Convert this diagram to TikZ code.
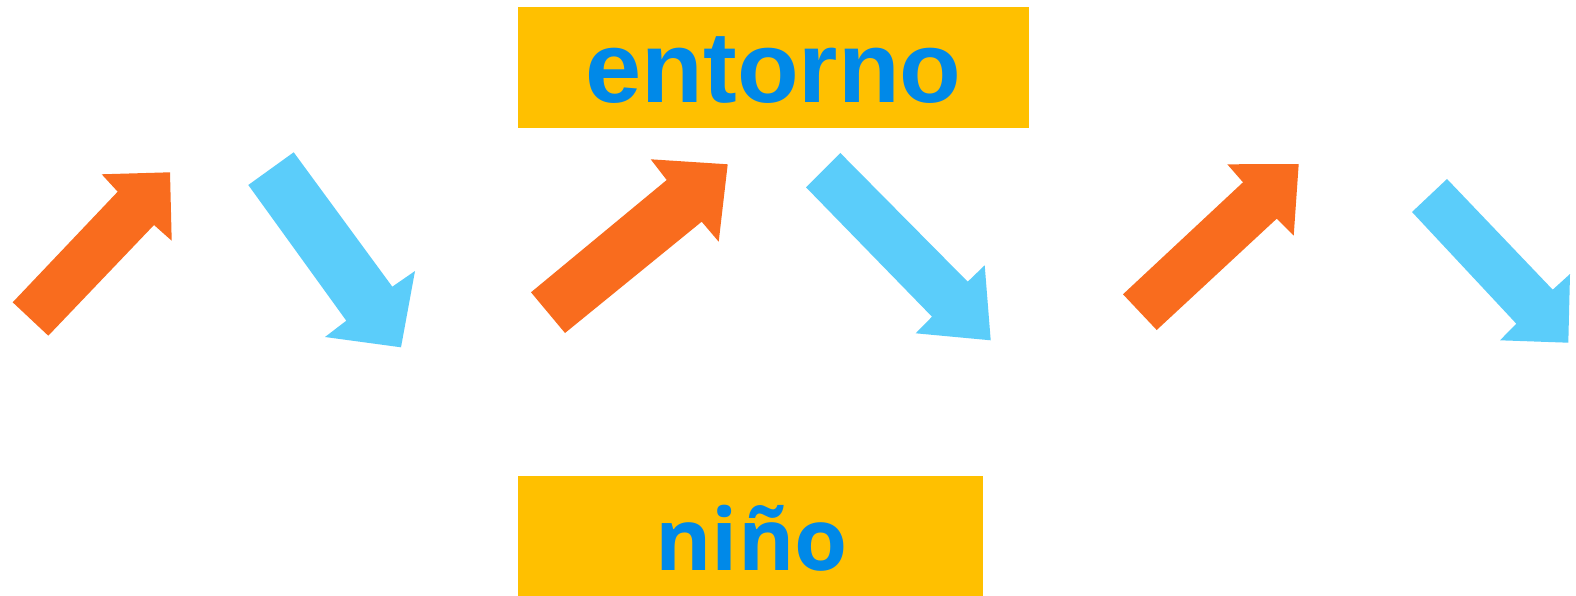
\documentclass[tikz,border=0pt]{standalone}
\usepackage{fontspec}
\setmainfont{Liberation Sans}
\newfontfamily\osans{Open Sans}
\definecolor{boxyellow}{HTML}{FFC000}
\definecolor{txtblue}{HTML}{0089E8}
\definecolor{arrorange}{HTML}{F96C1E}
\definecolor{arrblue}{HTML}{5BCDFA}
\begin{document}
\begin{tikzpicture}[x=1pt,y=-1pt,
  box/.style={fill=boxyellow, draw=none, inner sep=0pt, outer sep=0pt, anchor=north west},
  lbl/.style={text=txtblue, inner sep=0pt, anchor=base},
  orangearrow/.style={fill=arrorange, draw=none},
  bluearrow/.style={fill=arrblue, draw=none}]
\useasboundingbox (0,0) rectangle (1576,596);
\fill[white] (0,0) rectangle (1576,596);
% boxes
\node[box, minimum width=511pt, minimum height=120.7pt] (topbox) at (518,7) {};
\node[box, minimum width=464.7pt, minimum height=120.3pt] (botbox) at (518,475.7) {};
\node[lbl, font=\bfseries\fontsize{101}{101}\selectfont] (toptext) at (773.5,102.7) {entorno};
\node[lbl, font=\osans\bfseries\fontsize{86}{86}\selectfont] (bottext) at (751.7,570) {niño};
% arrows
\fill[orangearrow] (12.7,302.3) -- (117.7,191.7) -- (101.7,174.3) -- (170,172.3) -- (171.7,240.7) -- (154,225) -- (48.3,335.7) -- cycle;
\fill[bluearrow] (248.3,185) -- (293.7,152.3) -- (392.3,286.7) -- (415,271) -- (401,347.3) -- (325,337) -- (346.3,320.7) -- cycle;
\fill[orangearrow] (531,292.3) -- (666.7,180) -- (650.7,159.3) -- (727.7,164.3) -- (718.7,241.7) -- (701.7,221.7) -- (565,333) -- cycle;
\fill[bluearrow] (806,187.3) -- (840.3,153) -- (967.7,281.7) -- (984.7,265.3) -- (990.7,340.3) -- (915.7,333.3) -- (932,316.7) -- cycle;
\fill[orangearrow] (1123,294.3) -- (1243,182.3) -- (1227.3,164.3) -- (1298.7,164) -- (1293.7,235.7) -- (1276.7,218.7) -- (1156.7,330) -- cycle;
\fill[bluearrow] (1412,212) -- (1447,179) -- (1552.7,289.7) -- (1570,274) -- (1568.3,342.7) -- (1500,340.3) -- (1516.3,323.7) -- cycle;
\end{tikzpicture}
\end{document}
